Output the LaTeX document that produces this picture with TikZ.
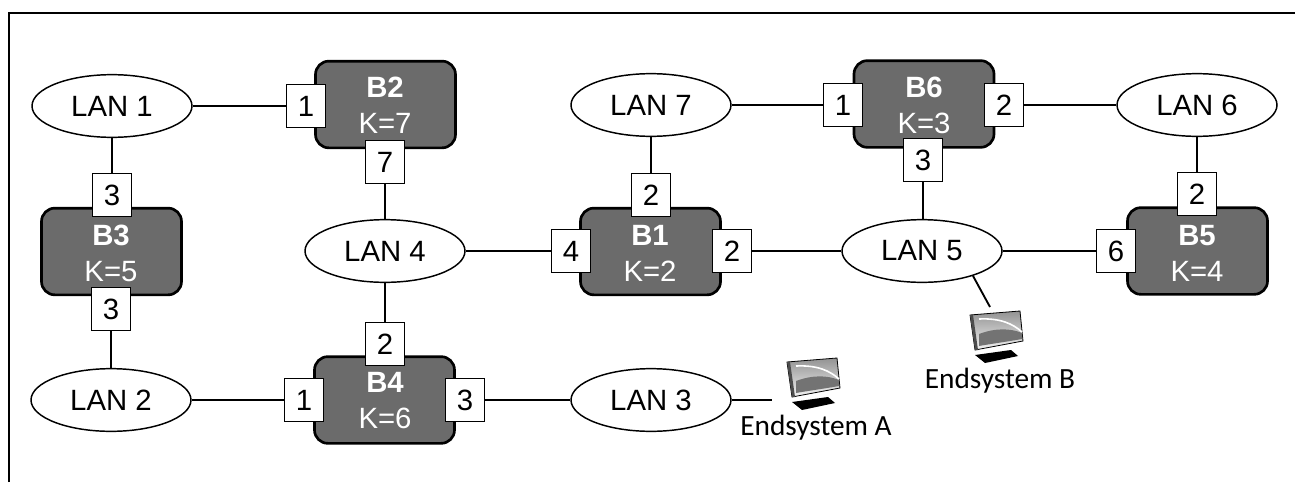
\documentclass[tikz,border=0pt]{standalone}
\usepackage{fontspec}
\setmainfont{Liberation Sans}
\newfontfamily\labelfont{Carlito}
\usetikzlibrary{shapes.geometric}
\definecolor{bridgefill}{gray}{0.42}
\tikzset{
 x=0.75pt,y=-0.75pt,
 lan/.style={ellipse,draw=black,line width=1.1pt,fill=white,minimum width=120pt,minimum height=47pt,inner sep=0pt,font=\fontsize{22}{24}\selectfont},
 bridge/.style={rectangle,rounded corners=10pt,draw=black,line width=2pt,fill=bridgefill,minimum width=105pt,minimum height=65pt,inner sep=0pt},
 bridgetext/.style={text=white,inner sep=0pt,align=center,font=\fontsize{22}{27}\selectfont},
 port/.style={rectangle,draw=black,line width=1.1pt,fill=white,minimum width=29.5pt,minimum height=32pt,inner sep=0pt,font=\fontsize{22}{24}\selectfont},
 wire/.style={line width=1.4pt,draw=black},
 endlabel/.style={font=\labelfont\fontsize{22}{24}\selectfont,inner sep=0pt},
 screen/.pic={
   \fill[black] (-20,19) -- (16,14) -- (23,20) -- (-10,27) -- cycle;
   \shade[top color=gray!85,bottom color=gray!10,draw=black,line width=0.6pt] (-25,-21) -- (25,-25) -- (28,5) -- (-20,14) -- cycle;
   \fill[black!70] (-25,-21) -- (-22,-21) -- (-17,14) -- (-20,14) -- cycle;
   \fill[black!55] (-16,-2) .. controls (0,-8) and (15,-8) .. (27,-3) -- (27,3) .. controls (10,6) and (-5,8) .. (-16,10) -- cycle;
   \draw[white,line width=1.2pt] (-16,-17) .. controls (6,-18) and (18,-12) .. (27,-4);
 }
}
\begin{document}
\begin{tikzpicture}
\useasboundingbox (0,0) rectangle (1295,482);
\draw[black,line width=0.9pt] (9,482) -- (9,13) -- (1295,13);
% LANs
\node[lan] (lan1) at (112,106) {LAN 1};
\node[lan] (lan2) at (111,400) {LAN 2};
\node[lan] (lan3) at (651,400) {LAN 3};
\node[lan] (lan4) at (385,251) {LAN 4};
\node[lan] (lan5) at (922,251) {LAN 5};
\node[lan] (lan6) at (1197,105) {LAN 6};
\node[lan] (lan7) at (651,105) {LAN 7};
% Bridges
\node[bridge] (b2) at (385.5,104.5) {};
\node[bridge] (b3) at (111.5,251.5) {};
\node[bridge] (b4) at (384.5,400) {};
\node[bridge] (b1) at (650.5,251.5) {};
\node[bridge] (b6) at (924,104) {};
\node[bridge] (b5) at (1197.5,251) {};
\node[bridgetext] (tb2) at (385,105) {\textbf{B2}\\K=7};
\node[bridgetext] (tb3) at (111,253) {\textbf{B3}\\K=5};
\node[bridgetext] (tb4) at (385,401) {\textbf{B4}\\K=6};
\node[bridgetext] (tb1) at (650,253) {\textbf{B1}\\K=2};
\node[bridgetext] (tb6) at (924,105) {\textbf{B6}\\K=3};
\node[bridgetext] (tb5) at (1197,253) {\textbf{B5}\\K=4};
% Ports
\node[port] (p21) at (306,106) {1};
\node[port] (p27) at (385,162) {7};
\node[port] (p3t) at (112,195) {3};
\node[port] (p3b) at (111,309) {3};
\node[port] (p41) at (304,400) {1};
\node[port] (p42) at (385,344) {2};
\node[port] (p43) at (465,400) {3};
\node[port] (p1t) at (651,195) {2};
\node[port] (p14) at (571,251) {4};
\node[port] (p1r) at (732,251) {2};
\node[port] (p61) at (843,105) {1};
\node[port] (p62) at (1004,105) {2};
\node[port] (p63) at (923,160) {3};
\node[port] (p5t) at (1197,194) {2};
\node[port] (p56) at (1116,251) {6};
% Endsystems
\coordinate (ea) at (772,400);
\coordinate (eb) at (990,307);
\path (812,383) pic {screen};
\path (995,336) pic {screen};
\node[endlabel] (la) at (816,428) {Endsystem A};
\node[endlabel] (lb) at (1000,381) {Endsystem B};
% Wires
\draw[wire] (lan1) -- (p21);
\draw[wire] (lan1) -- (p3t);
\draw[wire] (p3b) -- (lan2);
\draw[wire] (lan2) -- (p41);
\draw[wire] (p27) -- (lan4);
\draw[wire] (lan4) -- (p42);
\draw[wire] (lan4) -- (p14);
\draw[wire] (p43) -- (lan3);
\draw[wire] (lan7) -- (p1t);
\draw[wire] (lan7) -- (p61);
\draw[wire] (p1r) -- (lan5);
\draw[wire] (p63) -- (lan5.north -| p63);
\draw[wire] (lan5) -- (p56);
\draw[wire] (p62) -- (lan6);
\draw[wire] (lan6) -- (p5t);
\draw[wire] (lan3) -- (ea);
\draw[wire] (lan5.-26) -- (eb);
\end{tikzpicture}
\end{document}
